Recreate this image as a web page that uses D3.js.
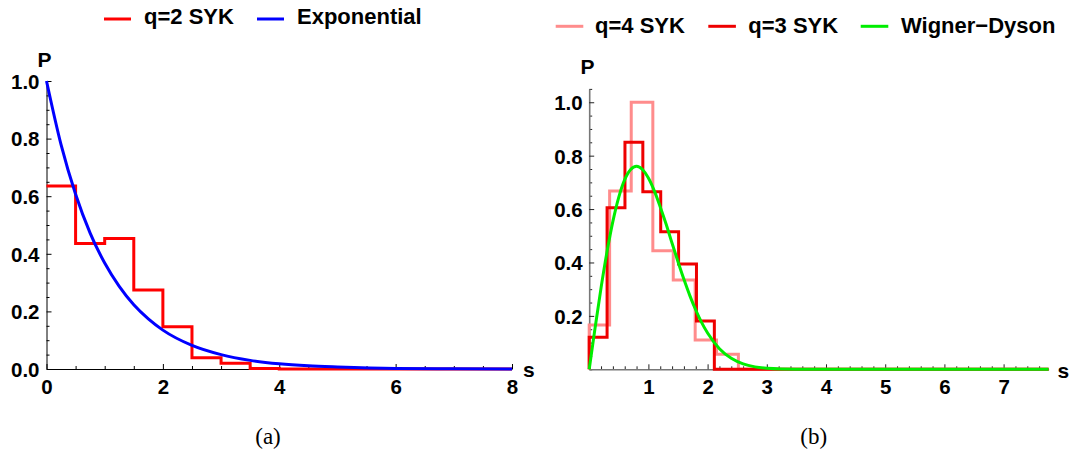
<!DOCTYPE html>
<html><head><meta charset="utf-8">
<script src="https://cdn.jsdelivr.net/npm/d3@7"></script>
<style>
body{margin:0;background:#fff}
svg{display:block}
text{font-family:"Liberation Sans",Arial,sans-serif;font-weight:bold;fill:#000}
</style>
</head><body>
<svg id="c" width="1073" height="453"></svg>
<script>
// ---------- data ----------
// panel (a)
const q2Edges  = [0, 0.5, 1, 1.5, 2, 2.5, 3, 3.5, 4, 8];
const q2Values = [0.635, 0.436, 0.453, 0.274, 0.147, 0.039, 0.020, 0.002, 0];
const expS = [0, 0.25, 0.5, 0.75, 1, 1.25, 1.5, 1.75, 2, 2.5, 3, 3.5, 4, 4.5, 5, 6, 7, 8];
const expP = [1, 0.779, 0.607, 0.472, 0.368, 0.287, 0.223, 0.174, 0.135, 0.082, 0.050, 0.030, 0.018, 0.011, 0.007, 0.002, 0.001, 0.0003];
const aTicksX = [0, 2, 4, 6, 8];
const aTicksY = [0, 0.2, 0.4, 0.6, 0.8, 1.0];
const aLegend = ["q=2 SYK", "Exponential"];
// panel (b)
const q4Edges  = [0, 0.345, 0.71, 1.075, 1.42, 1.79, 2.15, 2.52, 7.76];
const q4Values = [0.166, 0.668, 1.0, 0.444, 0.334, 0.11, 0.056, 0];
const q3Edges  = [0, 0.302, 0.604, 0.906, 1.208, 1.51, 1.812, 2.114, 7.76];
const q3Values = [0.12, 0.605, 0.85, 0.665, 0.515, 0.394, 0.181, 0];
const wdS = [0, 0.1, 0.2, 0.3, 0.4, 0.5, 0.6, 0.7, 0.8, 0.9, 1.0, 1.1, 1.2, 1.3, 1.4, 1.5, 1.6, 1.7, 1.8, 1.9, 2.0, 2.2, 2.4, 2.6, 2.8, 3.0, 3.5, 4, 5, 6, 7, 7.76];
const wdP = [0, 0.156, 0.305, 0.439, 0.554, 0.645, 0.710, 0.748, 0.760, 0.748, 0.716, 0.668, 0.608, 0.543, 0.472, 0.403, 0.337, 0.276, 0.222, 0.175, 0.136, 0.077, 0.041, 0.020, 0.009, 0.004, 0.0004, 0, 0, 0, 0, 0];
const bTicksX = [1, 2, 3, 4, 5, 6, 7];
const bTicksY = [0.2, 0.4, 0.6, 0.8, 1.0];
const bLegend = ["q=4 SYK", "q=3 SYK", "Wigner\u2212Dyson"];
const captions = ["(a)", "(b)"];

// ---------- drawing ----------
const svg = d3.select("#c");
const fmt1 = d3.format(".1f");

function stepPoints(edges, vals, fromZero) {
  const pts = [];
  if (fromZero) pts.push([edges[0], 0]);
  vals.forEach((v, i) => pts.push([edges[i], v]));
  pts.push([edges[edges.length - 1], vals[vals.length - 1]]);
  return pts;
}
function range(a, b, step) {
  const out = [];
  for (let i = 0; a + i * step <= b + 1e-9; i++) out.push(+(a + i * step).toFixed(4));
  return out;
}

function drawAxes(x, y, opt) {
  const g = svg.append("g");
  const y0 = y.range()[0], x0 = x.range()[0];
  const minorX = range(x.domain()[0], x.domain()[1], opt.minorX).filter(v => !opt.majorX.some(m => Math.abs(m - v) < 1e-6));
  const minorY = range(0, y.domain()[1], opt.minorY).filter(v => !opt.majorY.some(m => Math.abs(m - v) < 1e-6));
  g.append("g").attr("transform", `translate(0,${y0})`)
    .call(d3.axisBottom(x).tickValues(minorX).tickSizeInner(-3).tickSizeOuter(0).tickFormat(""))
    .call(s => s.select(".domain").remove())
    .call(s => s.selectAll("line").attr("stroke", opt.tickColor));
  g.append("g").attr("transform", `translate(${x0},0)`)
    .call(d3.axisLeft(y).tickValues(minorY).tickSizeInner(-3).tickSizeOuter(0).tickFormat(""))
    .call(s => s.select(".domain").remove())
    .call(s => s.selectAll("line").attr("stroke", opt.tickColor));
  const gx = g.append("g").attr("transform", `translate(0,${y0})`)
    .call(d3.axisBottom(x).tickValues(opt.majorX).tickSizeInner(-5).tickSizeOuter(0).tickPadding(10).tickFormat(d3.format("d")));
  const gy = g.append("g").attr("transform", `translate(${x0},0)`)
    .call(d3.axisLeft(y).tickValues(opt.majorY).tickSizeInner(-5).tickSizeOuter(0).tickPadding(opt.yPad).tickFormat(fmt1));
  [gx, gy].forEach(a => {
    a.attr("font-family", null).attr("font-size", null);
    a.select(".domain").attr("stroke", opt.axisColor).attr("stroke-width", opt.axisWidth);
    a.selectAll(".tick line").attr("stroke", opt.tickColor);
    a.selectAll("text").style("font-size", "20.5px");
  });
  gy.selectAll("text").attr("dy", "0.36em");
  return g;
}

// ----- panel (a) -----
const xa = d3.scaleLinear().domain([0, 8]).range([46.5, 512]);
const ya = d3.scaleLinear().domain([0, 1]).range([369, 81]);
drawAxes(xa, ya, {majorX: aTicksX, majorY: aTicksY, minorX: 0.5, minorY: 0.05,
  axisColor: "#000", axisWidth: 1, tickColor: "#000", yPad: 7});

const lineA = d3.line().x(d => xa(d[0])).y(d => ya(d[1]));
svg.append("path").attr("d", lineA.curve(d3.curveStepAfter)(stepPoints(q2Edges, q2Values, false)))
  .attr("fill", "none").attr("stroke", "#ff0000").attr("stroke-width", 3);
svg.append("path").attr("d", d3.line().x(d => xa(d[0])).y(d => ya(d[1])).curve(d3.curveMonotoneX)(expS.map((s, i) => [s, expP[i]])))
  .attr("fill", "none").attr("stroke", "#0000ff").attr("stroke-width", 3);

svg.append("text").attr("x", 44.5).attr("y", 66.5).attr("text-anchor", "middle").style("font-size", "21px").text("P");
svg.append("text").attr("x", 523).attr("y", 377).style("font-size", "21px").text("s");

const legA = [{c: "#ff0000", x: 104, t: 144}, {c: "#0000ff", x: 257, t: 297}];
legA.forEach((d, i) => {
  svg.append("line").attr("x1", d.x).attr("x2", d.x + 27).attr("y1", 19).attr("y2", 19).attr("stroke", d.c).attr("stroke-width", 3);
  svg.append("text").attr("x", d.t).attr("y", 24).style("font-size", "22px").text(aLegend[i]);
});

// ----- panel (b) -----
const xb = d3.scaleLinear().domain([0, 7.76]).range([589.2, 1048.6]);
const yb = d3.scaleLinear().domain([0, 1.05]).range([369.3, 88.9]);
drawAxes(xb, yb, {majorX: bTicksX, majorY: bTicksY, minorX: 0.2, minorY: 0.05,
  axisColor: "#777", axisWidth: 1.6, tickColor: "#222", yPad: 6.5});

const lineB = d3.line().x(d => xb(d[0])).y(d => yb(d[1])).curve(d3.curveStepAfter);
svg.append("path").attr("d", lineB(stepPoints(q4Edges, q4Values, true)))
  .attr("fill", "none").attr("stroke", "#ff8c8c").attr("stroke-width", 3);
svg.append("path").attr("d", lineB(stepPoints(q3Edges, q3Values, true)))
  .attr("fill", "none").attr("stroke", "#ee0000").attr("stroke-width", 3);
svg.append("path").attr("d", d3.line().x(d => xb(d[0])).y(d => yb(d[1])).curve(d3.curveMonotoneX)(wdS.map((s, i) => [s, wdP[i]])))
  .attr("fill", "none").attr("stroke", "#00ee00").attr("stroke-width", 3);

svg.append("text").attr("x", 587.5).attr("y", 74).attr("text-anchor", "middle").style("font-size", "21px").text("P");
svg.append("text").attr("x", 1057.5).attr("y", 378).style("font-size", "21px").text("s");

const legB = [{c: "#ff8c8c", x: 555.7, t: 595}, {c: "#ee0000", x: 708.3, t: 748.3}, {c: "#00ee00", x: 860.7, t: 901}];
legB.forEach((d, i) => {
  svg.append("line").attr("x1", d.x).attr("x2", d.x + 27.6).attr("y1", 26.3).attr("y2", 26.3).attr("stroke", d.c).attr("stroke-width", 3);
  svg.append("text").attr("x", d.t).attr("y", 33.3).style("font-size", "22px").text(bLegend[i]);
});

// captions
[268, 813.7].forEach((cx, i) => {
  svg.append("text").attr("x", cx).attr("y", 444).attr("text-anchor", "middle")
    .style("font-family", "'Liberation Serif','DejaVu Serif',serif").style("font-weight", "normal")
    .style("font-size", "23px").text(captions[i]);
});
</script>
</body></html>
